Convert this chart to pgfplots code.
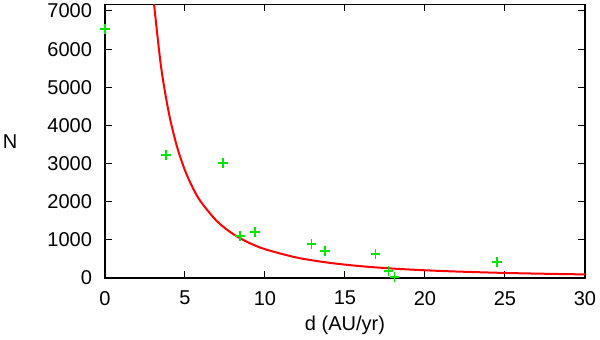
\documentclass[border=0pt]{standalone}
\usepackage{fontspec}
\setmainfont{Liberation Sans}
\usepackage{pgfplots}
\pgfplotsset{compat=1.18}
\definecolor{gpred}{HTML}{FF0000}
\definecolor{gpgreen}{HTML}{00E600}

\begin{document}
\begin{tikzpicture}
\begin{axis}[
  name=ax, anchor=south west, at={(0,0)},
  scale only axis, width=240pt, height=136.75pt,
  xmin=0, xmax=30, ymin=0, ymax=7170,
  xtick={0,5,...,30}, ytick={0,1000,...,7000},
  tick align=inside, major tick length=3.5pt,
  tick style={black, line width=0.5pt},
  axis line style={black, line width=0.6pt},
  font=\fontsize{10}{11}\selectfont,
  /pgf/number format/assume math mode=true,
  scaled y ticks=false,
  yticklabel style={/pgf/number format/1000 sep={}, xshift=-3pt},
  xticklabel style={yshift=-3pt},
  xlabel={d (AU/yr)}, ylabel={N},
  every axis x label/.style={at={(axis description cs:0.5,0)}, anchor=center, yshift=-23.5pt},
  every axis y label/.style={at={(axis description cs:0,0.5)}, anchor=center, xshift=-47.5pt},
]
% fitted curve, sampled by hand
\addplot[gpred, line width=1pt, smooth] coordinates {
  (2.9,7937) (3,7441) (3.5,5551) (4,4307) (4.5,3444) (5,2820) (5.5,2352)
  (6,1993) (7,1488) (8,1154) (9,923) (10,755) (12,534) (14,399) (16,309)
  (18,247) (20,202) (22,169) (25,132) (28,107) (30,94)};
% observations
\addplot[only marks, mark=+, mark size=2.3pt, gpgreen, line width=0.6pt] coordinates {
  (0,6530) (3.81,3222) (7.37,3013) (8.44,1100) (9.37,1205) (12.9,890)
  (13.75,707) (16.9,629) (17.7,183) (18.1,26) (24.5,419)};
\end{axis}
\pgfresetboundingbox
\path[use as bounding box] (-52.5pt,-31pt) rectangle (247.5pt,139pt);
\end{tikzpicture}
\end{document}
